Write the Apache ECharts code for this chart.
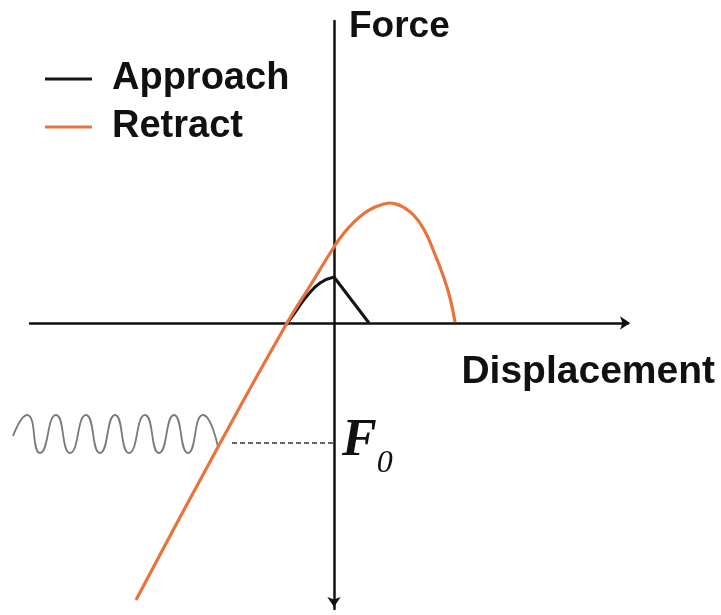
<!DOCTYPE html>
<html>
<head>
<meta charset="utf-8">
<script src="https://cdn.jsdelivr.net/npm/echarts@6/dist/echarts.min.js"></script>
<style>html,body{margin:0;padding:0;background:#fff;}#c{width:721px;height:615px;}</style>
</head>
<body>
<div id="c"></div>
<script>
// Displacement (x) / Force (y) pairs, arbitrary schematic units
var approachRiseData = [[-4.8,-0.2],[-3.8,1.2],[-2.7,2.7],[-1.4,4.0],[0,4.6]];
var approachFallData = [[0,4.6],[3.5,0]];
var retractData = [[-19.8,-27.7],[-11.6,-12.4],[-4.7,0],[-2.4,3.7],[0,7.6],[1,9.0],[2,10.1],[3,10.95],[4,11.55],[5,11.9],[5.6,12.0],[6,11.95],[7,11.55],[8,10.75],[9,9.35],[10,7.1],[11,4.5],[11.6,2.5],[12.1,0.1]];
var springData = [[-32.1,-11.3],[-30.7,-9.2],[-29.4,-13.0],[-27.8,-9.2],[-26.4,-13.0],[-24.8,-9.2],[-23.4,-13.0],[-21.9,-9.2],[-20.5,-13.0],[-18.9,-9.2],[-17.5,-13.0],[-16.0,-9.2],[-14.6,-13.0],[-13.1,-9.2],[-11.6,-12.4]];
var forceLevelData = [[-10.2,-12.0],[0,-12.0]];
var legendNames = ['Approach','Retract'];
var xName = 'Displacement';
var yName = 'Force';

var hiddenAxis = {axisLine: {show: false}, axisTick: {show: false}, axisLabel: {show: false}, splitLine: {show: false}};

var chart = echarts.init(document.getElementById('c'), null, {renderer:'canvas'});
chart.setOption({
  animation: false,
  backgroundColor: '#fff',
  grid: [
    {left: 30, right: 93, top: 21, bottom: 6, containLabel: false},
    {left: 13, right: 93, top: 21, bottom: 6, containLabel: false}
  ],
  legend: {
    data: legendNames, orient: 'vertical', left: 45, top: 60, padding: 0,
    icon: 'rect', itemWidth: 47, itemHeight: 3, itemGap: 10,
    textStyle: {fontFamily: 'Liberation Sans', fontWeight: 'bold', fontSize: 38, color: '#111', lineHeight: 38, padding: [0,0,0,15]}
  },
  xAxis: [{
    type: 'value', min: -30.4, max: 29.4, gridIndex: 0,
    name: xName, nameLocation: 'end', nameGap: 87,
    nameTextStyle: {fontFamily: 'Liberation Sans', fontWeight: 'bold', fontSize: 39, color: '#111', align: 'right', verticalAlign: 'top', padding: [30,0,0,0]},
    axisLine: {onZero: true, lineStyle: {color: '#111', width: 2.5}, symbol: ['none','arrow'], symbolSize: [10,10], symbolOffset: [0,2]},
    axisTick: {show: false}, axisLabel: {show: false}, splitLine: {show: false}
  }, Object.assign({type: 'value', min: -32.1, max: 29.4, gridIndex: 1}, hiddenAxis)],
  yAxis: [{
    type: 'value', min: -28.6, max: 30.2, gridIndex: 0,
    name: yName, nameLocation: 'end', nameGap: -6,
    nameTextStyle: {fontFamily: 'Liberation Sans', fontWeight: 'bold', fontSize: 37, color: '#111', align: 'left', verticalAlign: 'middle', padding: [0,0,0,15]},
    axisLine: {onZero: true, lineStyle: {color: '#111', width: 2.5}, symbol: ['arrow','none'], symbolSize: [10,10], symbolOffset: [2,0]},
    axisTick: {show: false}, axisLabel: {show: false}, splitLine: {show: false}
  }, Object.assign({type: 'value', min: -28.6, max: 30.2, gridIndex: 1}, hiddenAxis)],
  series: [
    {name: 'Spring', type: 'line', data: springData, smooth: 0.6, symbol: 'none', silent: true,
     xAxisIndex: 1, yAxisIndex: 1,
     lineStyle: {color: '#7a7a7a', width: 1.8}},
    {name: 'F0', type: 'line', data: forceLevelData, symbol: 'none', silent: true,
     lineStyle: {color: '#333', width: 1.5, type: [5,3]},
     endLabel: {show: true, distance: 8, offset: [0,5], formatter: '{f|F}{s|0}',
       rich: {
         f: {fontFamily: 'Liberation Serif', fontStyle: 'italic', fontWeight: 'bold', fontSize: 52, color: '#111', verticalAlign: 'bottom', padding: [0,0,12,0]},
         s: {fontFamily: 'Liberation Serif', fontStyle: 'italic', fontSize: 32, color: '#111', verticalAlign: 'bottom'}
       }}},
    {name: 'Approach', type: 'line', data: approachRiseData, symbol: 'none', smooth: 0.5,
     lineStyle: {color: '#151515', width: 3}, itemStyle: {color: '#151515'}},
    {name: 'Approach', type: 'line', data: approachFallData, symbol: 'none', smooth: false,
     lineStyle: {color: '#151515', width: 3}, itemStyle: {color: '#151515'}},
    {name: 'Retract', type: 'line', data: retractData, symbol: 'none', smooth: 0.5,
     lineStyle: {color: '#E8743B', width: 3.2}, itemStyle: {color: '#E8743B'}}
  ]
});
</script>
</body>
</html>
